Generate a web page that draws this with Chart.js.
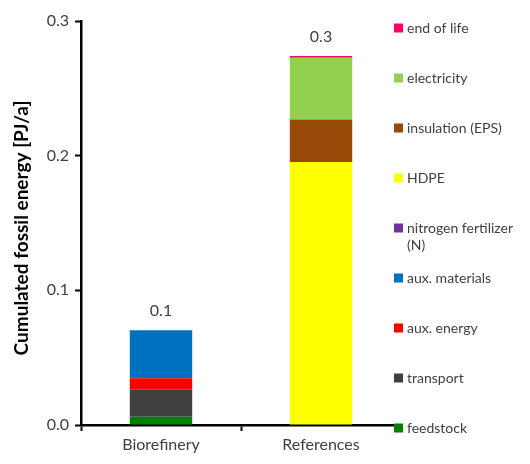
<!DOCTYPE html>
<html>
<head>
<meta charset="utf-8">
<script src="https://cdn.jsdelivr.net/npm/chart.js@4/dist/chart.umd.min.js"></script>
<style>
  html, body { margin: 0; padding: 0; background: #fff; }
  #wrap { width: 530px; height: 464px; }
</style>
</head>
<body>
<div id="wrap"><canvas id="chartstack"></canvas></div>
<script>
const categories = ['Biorefinery', 'References'];
const feedstock = [0.0062, 0];
const transport = [0.0200, 0];
const auxEnergy = [0.0085, 0];
const auxMaterials = [0.0356, 0];
const nitrogenFertilizer = [0, 0];
const hdpe = [0, 0.1953];
const insulation = [0, 0.0315];
const electricity = [0, 0.0460];
const endOfLife = [0, 0.0012];
const yTicks = [0, 0.1, 0.2, 0.3];
const yTitle = 'Cumulated fossil energy [PJ/a]';

const series = [
  { label: 'feedstock', data: feedstock, color: '#008000' },
  { label: 'transport', data: transport, color: '#404040' },
  { label: 'aux. energy', data: auxEnergy, color: '#ff0000' },
  { label: 'aux. materials', data: auxMaterials, color: '#0070c0' },
  { label: ['nitrogen fertilizer', '(N)'], data: nitrogenFertilizer, color: '#7030a0' },
  { label: 'HDPE', data: hdpe, color: '#ffff00' },
  { label: 'insulation (EPS)', data: insulation, color: '#984807' },
  { label: 'electricity', data: electricity, color: '#92d050' },
  { label: 'end of life', data: endOfLife, color: '#ff0066' }
];

const fontFamily = 'Lato, "Open Sans", sans-serif';

// totals above each stack
const totalsPlugin = {
  id: 'totals',
  afterDatasetsDraw(chart) {
    const ctx = chart.ctx;
    const xs = chart.scales.x, ys = chart.scales.y;
    ctx.save();
    ctx.font = '16px ' + fontFamily;
    ctx.fillStyle = '#404040';
    ctx.textAlign = 'center';
    ctx.textBaseline = 'middle';
    categories.forEach((c, i) => {
      const total = series.reduce((s, d) => s + d.data[i], 0);
      ctx.fillText(total.toFixed(1), xs.getPixelForValue(i), ys.getPixelForValue(total) - 19);
    });
    ctx.restore();
  }
};

// legend on the right (top item = last dataset) and the y title
const sideLegend = {
  id: 'sideLegend',
  afterDraw(chart) {
    const ctx = chart.ctx;
    const area = chart.chartArea;
    const x = area.right - 7;
    let y = area.top + 7;
    ctx.save();
    ctx.font = '14px ' + fontFamily;
    ctx.textBaseline = 'middle';
    ctx.textAlign = 'left';
    series.slice().reverse().forEach(s => {
      ctx.fillStyle = s.color;
      ctx.fillRect(x, y - 4.5, 9, 9);
      ctx.fillStyle = '#404040';
      const lines = Array.isArray(s.label) ? s.label : [s.label];
      lines.forEach((t, k) => ctx.fillText(t, x + 13, y + k * 17));
      y += 50;
    });

    ctx.translate(22, (area.top + area.bottom) / 2 + 5);
    ctx.rotate(-Math.PI / 2);
    ctx.font = 'bold 19px ' + fontFamily;
    ctx.fillStyle = '#000';
    ctx.textAlign = 'center';
    ctx.textBaseline = 'middle';
    ctx.fillText(yTitle, 0, 0);
    ctx.restore();
  }
};

const ctx = document.getElementById('chartstack').getContext('2d');

const chartstack = new Chart(ctx, {
  type: 'bar',
  data: {
    labels: categories,
    datasets: series.map(s => ({
      label: Array.isArray(s.label) ? s.label.join(' ') : s.label,
      data: s.data,
      backgroundColor: s.color,
      borderWidth: 0,
      barPercentage: 0.39,
      categoryPercentage: 1
    }))
  },
  options: {
    responsive: true,
    maintainAspectRatio: false,
    animation: false,
    layout: { padding: { left: 0, right: 129, top: 21, bottom: 0 } },
    plugins: {
      legend: { display: false },
      tooltip: { enabled: false }
    },
    scales: {
      x: {
        stacked: true,
        afterFit(s) { s.height = 39; },
        border: { color: '#000', width: 2.5 },
        grid: { drawOnChartArea: false, tickLength: 6, tickColor: '#000', tickWidth: 2 },
        ticks: { color: '#404040', font: { family: fontFamily, size: 16 }, padding: 4 }
      },
      y: {
        stacked: true,
        min: 0,
        max: 0.3,
        afterFit(s) { s.width = 81; },
        afterBuildTicks(s) { s.ticks = yTicks.map(v => ({ value: v })); },
        border: { color: '#000', width: 2.5 },
        grid: { drawOnChartArea: false, tickLength: 6, tickColor: '#000', tickWidth: 2 },
        ticks: {
          color: '#404040',
          font: { family: fontFamily, size: 16 },
          padding: 6,
          callback: v => Number(v).toFixed(1)
        }
      }
    }
  },
  plugins: [totalsPlugin, sideLegend]
});
</script>
</body>
</html>
